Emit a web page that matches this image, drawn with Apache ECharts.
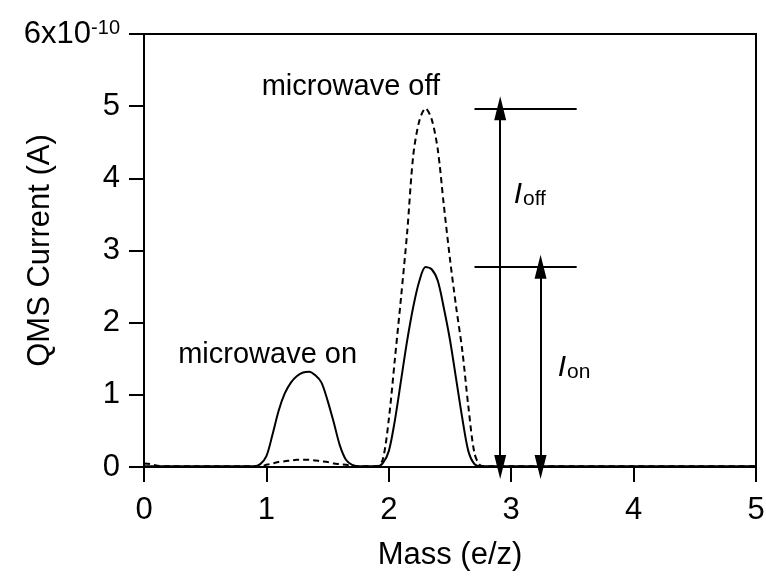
<!DOCTYPE html>
<html>
<head>
<meta charset="utf-8">
<script src="https://cdn.jsdelivr.net/npm/echarts@6/dist/echarts.min.js"></script>
<style>html,body{margin:0;padding:0;background:#fff;}#c{width:766px;height:576px;}</style>
</head>
<body>
<div id="c"></div>
<script>
var mass = [0, 0.05, 0.1, 0.2, 0.4, 0.6, 0.8, 0.9, 0.95, 1.0, 1.05, 1.1, 1.15, 1.2, 1.25, 1.3, 1.35, 1.4, 1.45, 1.5, 1.55, 1.6, 1.65, 1.7, 1.75, 1.8, 1.9, 1.95, 2.0, 2.05, 2.1, 2.15, 2.2, 2.25, 2.3, 2.35, 2.4, 2.45, 2.5, 2.55, 2.6, 2.65, 2.7, 2.75, 2.8, 3.0, 3.5, 4.0, 4.5, 5.0];
var currentOn = [0.01, 0.01, 0.01, 0.01, 0.01, 0.01, 0.01, 0.01, 0.04, 0.15, 0.45, 0.78, 1.02, 1.17, 1.26, 1.31, 1.32, 1.27, 1.17, 0.92, 0.62, 0.30, 0.10, 0.03, 0.01, 0.01, 0.01, 0.05, 0.22, 0.65, 1.20, 1.75, 2.22, 2.58, 2.77, 2.74, 2.58, 2.20, 1.76, 1.22, 0.68, 0.22, 0.04, 0.01, 0.01, 0.01, 0.01, 0.01, 0.01, 0.01];
var currentOff = [0.05, 0.04, 0.02, 0.01, 0.01, 0.01, 0.01, 0.01, 0.01, 0.03, 0.05, 0.07, 0.08, 0.09, 0.10, 0.10, 0.10, 0.09, 0.08, 0.07, 0.05, 0.04, 0.03, 0.02, 0.01, 0.01, 0.01, 0.10, 0.66, 1.50, 2.35, 3.25, 4.32, 4.80, 4.97, 4.82, 4.40, 3.62, 2.88, 2.22, 1.62, 0.84, 0.19, 0.02, 0.01, 0.01, 0.01, 0.01, 0.01, 0.01];
var xTicks = [0, 1, 2, 3, 4, 5];
var yTicks = [0, 1, 2, 3, 4, 5, 6];
var peakOff = 4.97, peakOn = 2.775;
var arrowOffX = 2.91, arrowOnX = 3.24;
var refLineX = [2.70, 3.535];
var labelOffPos = [3.02, 3.77], labelOnPos = [3.38, 1.38];
var textOffPos = [1.69, 5.27], textOnPos = [1.01, 1.55];

var FONT = 'Liberation Sans, Arial, Helvetica, sans-serif';
var chart = echarts.init(document.getElementById('c'), null, {renderer: 'canvas'});

function pt(x, y, extra) { var o = {coord: [x, y]}; for (var k in extra) o[k] = extra[k]; return o; }
var arrowEnd = {symbol: 'triangle', symbolSize: [12, 24]};

chart.setOption({
  animation: false,
  backgroundColor: '#fff',
  grid: {left: 144, right: 10, top: 34, bottom: 109, show: true, borderColor: '#000', borderWidth: 2,
         outerBoundsMode: 'none', containLabel: false},
  xAxis: {
    type: 'value', min: 0, max: 5, interval: 1,
    name: 'Mass (e/z)', nameLocation: 'middle', nameGap: 73, nameMoveOverlap: false,
    nameTextStyle: {fontFamily: FONT, fontSize: 31, color: '#000'},
    axisLine: {show: true, onZero: false, lineStyle: {color: '#000', width: 2}},
    axisTick: {show: true, length: 15, lineStyle: {color: '#000', width: 2}},
    axisLabel: {color: '#000', fontFamily: FONT, fontSize: 31, margin: 28,
      formatter: function (v) { return xTicks.indexOf(v) >= 0 ? String(v) : ''; }},
    splitLine: {show: false}
  },
  yAxis: {
    type: 'value', min: 0, max: 6, interval: 1,
    name: 'QMS Current (A)', nameLocation: 'middle', nameGap: 88, nameMoveOverlap: false,
    nameTextStyle: {fontFamily: FONT, fontSize: 31, color: '#000'},
    axisLine: {show: true, lineStyle: {color: '#000', width: 2}},
    axisTick: {show: true, length: 15, lineStyle: {color: '#000', width: 2}},
    axisLabel: {color: '#000', fontFamily: FONT, fontSize: 31, margin: 24,
      formatter: function (v) { return v === 6 ? '{b|6x10}{s|-10}' : (yTicks.indexOf(v) >= 0 ? String(v) : ''); },
      rich: {
        b: {fontFamily: FONT, fontSize: 31, color: '#000', verticalAlign: 'middle'},
        s: {fontFamily: FONT, fontSize: 20, lineHeight: 20, color: '#000', verticalAlign: 'top', padding: [0, 0, 28, 0]}
      }},
    splitLine: {show: false}
  },
  series: [
    {
      name: 'microwave on', type: 'line', showSymbol: false, smooth: 0.3,
      data: mass.map(function (m, i) { return [m, currentOn[i]]; }),
      lineStyle: {color: '#000', width: 2, type: 'solid'},
      markLine: {
        silent: true, animation: false,
        label: {show: false},
        lineStyle: {color: '#000', width: 2, type: 'solid'},
        symbol: ['none', 'none'],
        data: [
          [pt(refLineX[0], peakOff, {symbol: 'none'}), pt(refLineX[1], peakOff, {symbol: 'none'})],
          [pt(refLineX[0], peakOn, {symbol: 'none'}), pt(refLineX[1], peakOn, {symbol: 'none'})],
          [pt(arrowOffX, 0, arrowEnd), pt(arrowOffX, peakOff, arrowEnd)],
          [pt(arrowOnX, 0, arrowEnd), pt(arrowOnX, peakOn, arrowEnd)]
        ]
      },
      markPoint: {
        silent: true, animation: false, symbol: 'circle', symbolSize: 0,
        label: {show: true, color: '#000', fontFamily: FONT, fontSize: 29, align: 'center', verticalAlign: 'middle',
          rich: {
            i: {fontFamily: FONT, fontSize: 30, fontStyle: 'italic', color: '#000'},
            sub: {fontFamily: FONT, fontSize: 21, color: '#000', verticalAlign: 'bottom', padding: [6, 0, 0, 1]}
          }},
        data: [
          {coord: textOffPos, label: {formatter: 'microwave off'}},
          {coord: textOnPos, label: {formatter: 'microwave on'}},
          {coord: labelOffPos, label: {formatter: '{i|I}{sub|off}', align: 'left'}},
          {coord: labelOnPos, label: {formatter: '{i|I}{sub|on}', align: 'left'}}
        ]
      }
    },
    {
      name: 'microwave off', type: 'line', showSymbol: false, smooth: 0.3,
      data: mass.map(function (m, i) { return [m, currentOff[i]]; }),
      lineStyle: {color: '#000', width: 2, type: [6, 4]}
    }
  ]
});
</script>
</body>
</html>
